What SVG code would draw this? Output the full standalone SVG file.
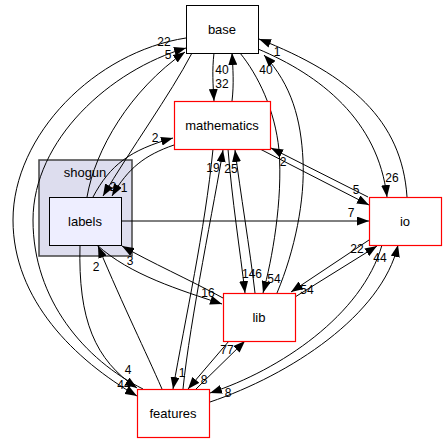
<svg xmlns="http://www.w3.org/2000/svg" width="447" height="443" viewBox="0 0 447 443">
<style>
.n{fill:#fff;stroke:#000;stroke-width:1}
.r{fill:#fff;stroke:#ff0000;stroke-width:1.2}
.t{font-family:"Liberation Sans",Arial,sans-serif;font-size:13px;text-anchor:middle;fill:#000}
.l{font-family:"Liberation Sans",Arial,sans-serif;font-size:12px;text-anchor:middle;fill:#000}
.e{fill:none;stroke:#000;stroke-width:1;marker-end:url(#a)}
</style>
<defs>
<marker id="a" markerUnits="userSpaceOnUse" markerWidth="12" markerHeight="9" refX="12" refY="4.5" orient="auto">
<path d="M0,0 L12,4.5 L0,9 z" fill="#000"/>
</marker>
</defs>
<rect x="0" y="0" width="447" height="443" fill="#fff"/>
<g id="cluster_shogun">
<rect x="39" y="160" width="93" height="96" fill="#ddddee" stroke="#444" stroke-width="1.5"/>
<text class="t" x="85" y="177">shogun</text>
</g>
<g id="edges">
<path class="e" d="M186,38 C95,52 13,135 13,220 C13,300 75,360 137,396"/>
<path class="e" d="M143,389 C85,360 33,300 33,220 C33,140 110,70 186,48"/>
<path class="e" d="M87,197 C95,150 130,90 185,52"/>
<path class="e" d="M192,53 C170,95 130,150 103,196"/>
<path class="e" d="M174,145 C145,155 128,168 112,196"/>
<path class="e" d="M93,197 C110,165 130,150 173,138"/>
<path class="e" d="M232,101 C234,85 233,68 232,53"/>
<path class="e" d="M214,53 C212,70 213,85 214,101"/>
<path class="e" d="M240,53 C258,75 275,110 279,150 C283,200 272,260 263,293"/>
<path class="e" d="M277,293 C295,250 305,200 303,160 C301,120 292,85 264,55"/>
<path class="e" d="M407,197 C402,120 350,75 259,39"/>
<path class="e" d="M258,49 C320,75 378,120 387,197"/>
<path class="e" d="M368,197 L271,148"/>
<path class="e" d="M260,149 L369,205"/>
<path class="e" d="M121,221 L369,221"/>
<path class="e" d="M295,297 L377,246"/>
<path class="e" d="M369,240 L291,292"/>
<path class="e" d="M382,245 C362,315 280,370 210,393"/>
<path class="e" d="M210,402 C290,375 382,315 398,245"/>
<path class="e" d="M229,341 L188,389"/>
<path class="e" d="M196,389 L245,341"/>
<path class="e" d="M213,149 C205,230 185,320 173,389"/>
<path class="e" d="M183,389 C190,320 215,200 223,150"/>
<path class="e" d="M228,149 C232,200 240,250 245,293"/>
<path class="e" d="M255,293 C250,250 240,190 235,150"/>
<path class="e" d="M97,245 C130,275 180,290 222,304"/>
<path class="e" d="M223,298 C190,280 150,262 122,246"/>
<path class="e" d="M162,389 C145,350 125,310 98,246"/>
<path class="e" d="M80,245 C78,320 95,360 137,388"/>
</g>
<g id="edge_labels">
<text class="l" x="164" y="46">22</text>
<text class="l" x="168" y="59">5</text>
<text class="l" x="222" y="74">40</text>
<text class="l" x="222" y="88">32</text>
<text class="l" x="266" y="74">40</text>
<text class="l" x="277" y="56">1</text>
<text class="l" x="155" y="142">2</text>
<text class="l" x="113" y="191">2</text>
<text class="l" x="124" y="192">1</text>
<text class="l" x="213" y="172">19</text>
<text class="l" x="231" y="173">25</text>
<text class="l" x="283" y="166">2</text>
<text class="l" x="356" y="194">5</text>
<text class="l" x="392" y="182">26</text>
<text class="l" x="351" y="217">7</text>
<text class="l" x="357" y="253">22</text>
<text class="l" x="380" y="262">44</text>
<text class="l" x="252" y="278">146</text>
<text class="l" x="274" y="283">54</text>
<text class="l" x="307" y="294">54</text>
<text class="l" x="208" y="297">16</text>
<text class="l" x="130" y="265">3</text>
<text class="l" x="96" y="271">2</text>
<text class="l" x="227" y="354">77</text>
<text class="l" x="204" y="384">8</text>
<text class="l" x="228" y="397">8</text>
<text class="l" x="182" y="377">1</text>
<text class="l" x="128" y="374">4</text>
<text class="l" x="124" y="389">44</text>
</g>
<g id="base"><rect class="n" x="186.5" y="5.5" width="72" height="48"/><text class="t" x="222" y="34">base</text></g>
<g id="mathematics"><rect class="r" x="174.5" y="101.5" width="96" height="48"/><text class="t" x="222" y="130">mathematics</text></g>
<g id="labels"><rect x="49.5" y="197.5" width="72" height="48" fill="#eeeeff" stroke="#000"/><text class="t" x="85" y="226">labels</text></g>
<g id="io"><rect class="r" x="369.5" y="197.5" width="72" height="48"/><text class="t" x="405" y="226">io</text></g>
<g id="lib"><rect class="r" x="223.5" y="293.5" width="72" height="48"/><text class="t" x="259" y="322">lib</text></g>
<g id="features"><rect class="r" x="137.5" y="389.5" width="72" height="48"/><text class="t" x="173" y="418">features</text></g>
</svg>
